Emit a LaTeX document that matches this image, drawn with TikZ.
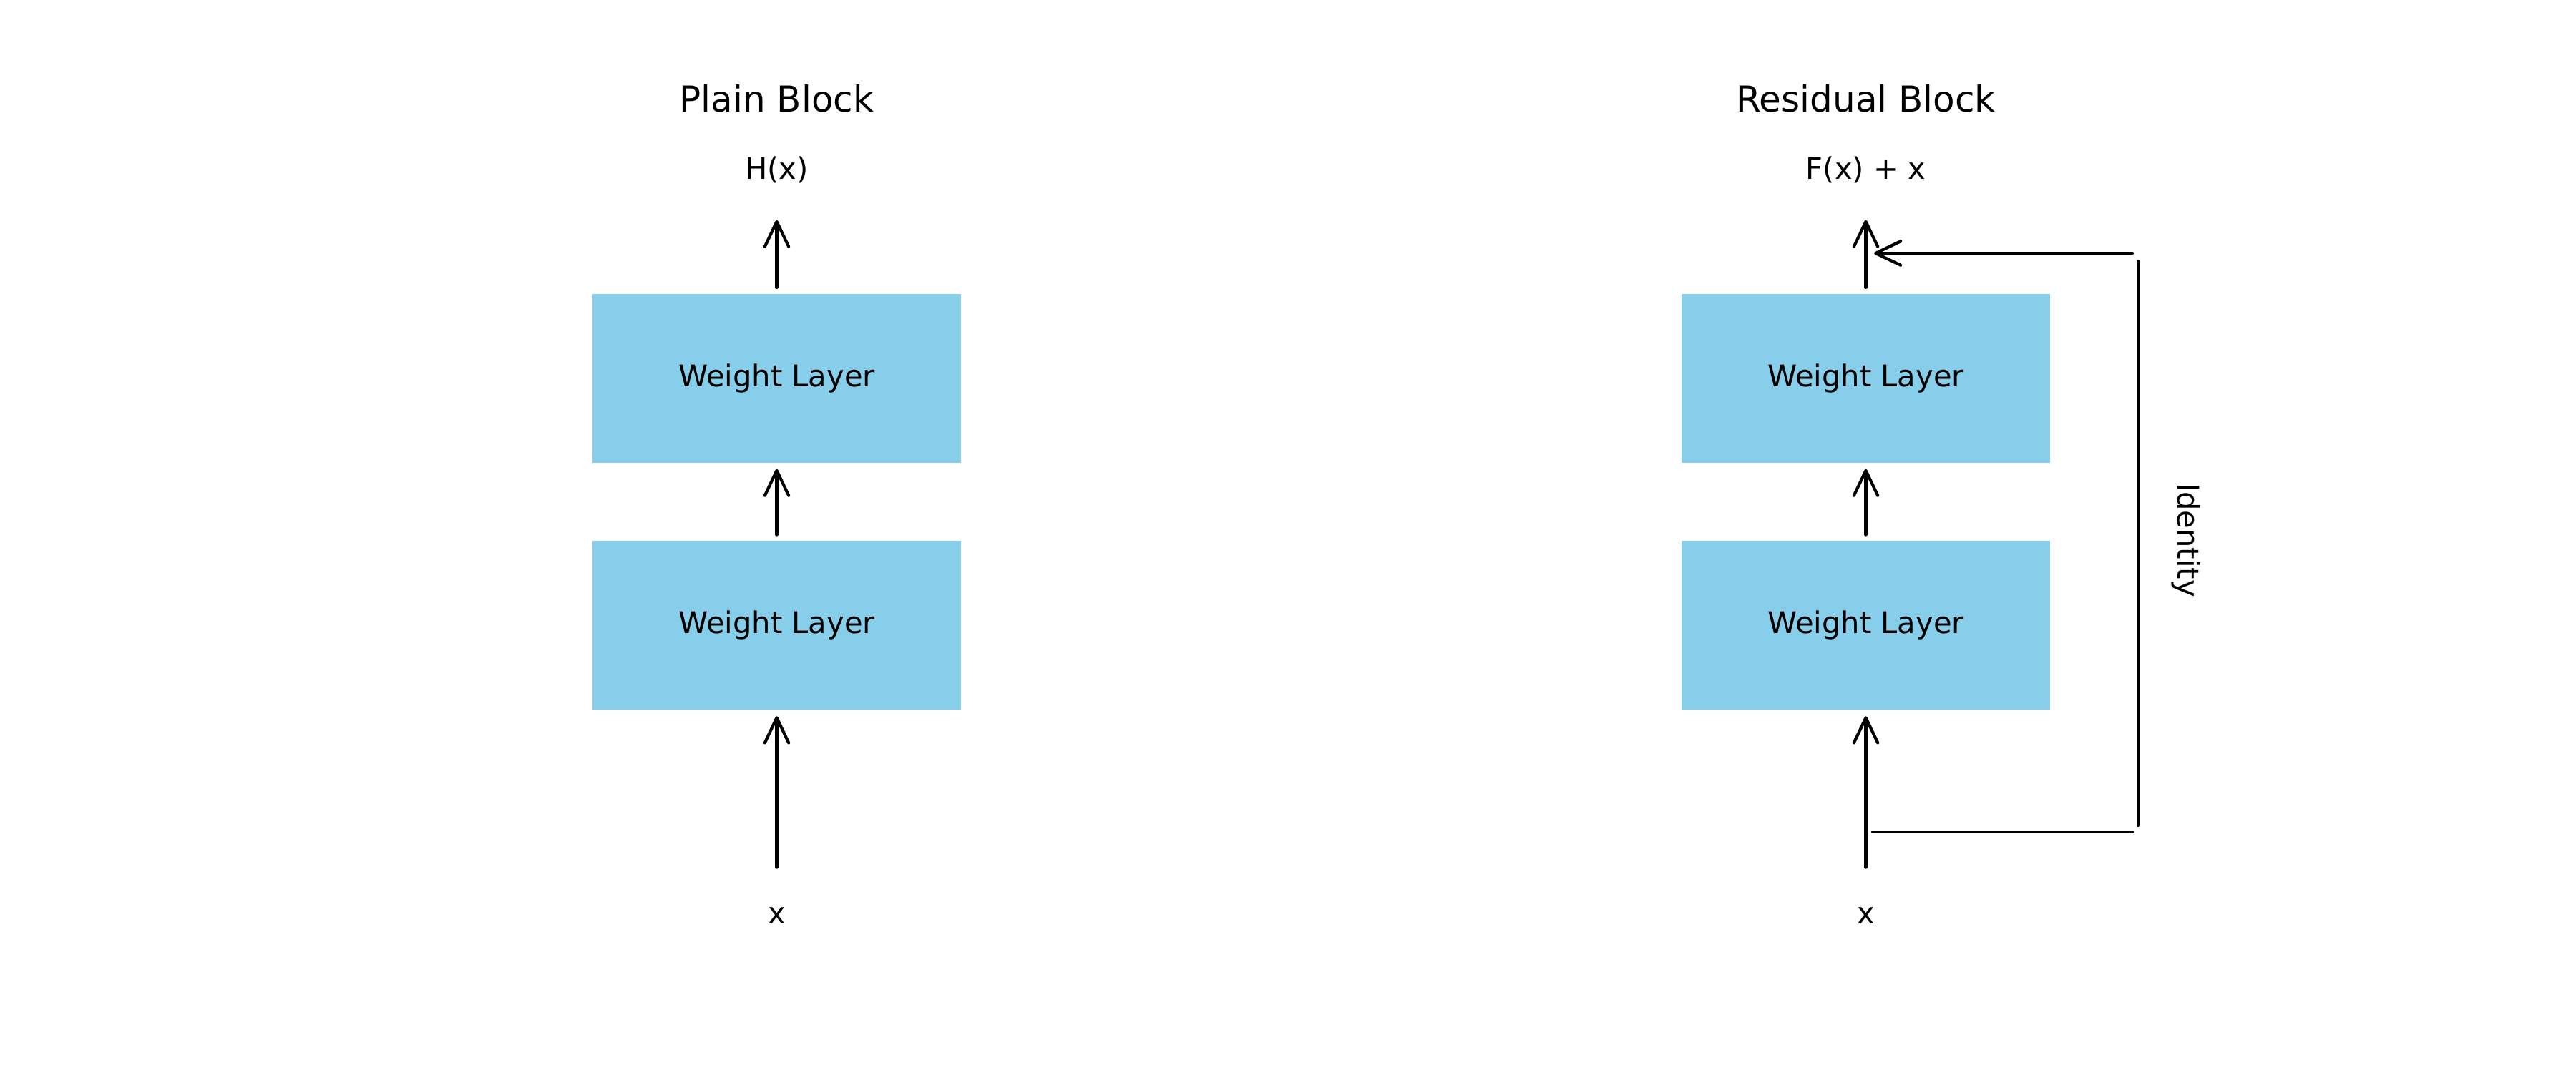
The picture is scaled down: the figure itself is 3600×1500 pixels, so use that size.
\documentclass[tikz,border=0pt]{standalone}
\usepackage{fontspec}
\setmainfont{DejaVu Sans}
\usetikzlibrary{arrows.meta}
\definecolor{skyblue}{RGB}{135,206,235}
\tikzset{
  layer/.style={fill=skyblue, draw=none, inner sep=0pt, minimum width=123.6pt, minimum height=56.6pt, font=\fontsize{10pt}{12pt}\selectfont},
  arr/.style={line width=1pt, line cap=round, -{Straight Barb[length=8.4pt,width=8pt,round]}},
  seg/.style={line width=1pt, line cap=round},
  lbl/.style={inner sep=0pt, anchor=base, font=\fontsize{10pt}{12pt}\selectfont},
  ttl/.style={inner sep=0pt, anchor=base, font=\fontsize{12pt}{14pt}\selectfont}
}
\begin{document}
\begin{tikzpicture}[x=0.24pt, y=-0.24pt]
\useasboundingbox (0,0) rectangle (3600,1500);
% Plain block
\node[ttl] (ptitle) at (1085.5,156.8) {Plain Block};
\node[lbl] (pout) at (1085.5,251) {H(x)};
\node[layer] (p1) at (1085.5,528.6) {Weight Layer};
\node[layer] (p2) at (1085.5,874.2) {Weight Layer};
\node[lbl] (pin) at (1085.5,1291) {x};
\coordinate (pinTop) at (1085.5,1212.6);
\coordinate (poutBot) at (1085.5,307.7);
\draw[arr] (pinTop) -- ([yshift=-2pt]p2.south);
\draw[arr] ([yshift=1.9pt]p2.north) -- ([yshift=-2pt]p1.south);
\draw[arr] ([yshift=1.9pt]p1.north) -- (poutBot);
% Residual block
\node[ttl] (rtitle) at (2607.5,156.8) {Residual Block};
\node[lbl] (rout) at (2607.5,251) {F(x) + x};
\node[layer] (r1) at (2607.5,528.6) {Weight Layer};
\node[layer] (r2) at (2607.5,874.2) {Weight Layer};
\node[lbl] (rin) at (2607.5,1291) {x};
\coordinate (rinTop) at (2607.5,1212.6);
\coordinate (routBot) at (2607.5,307.7);
\draw[arr] (rinTop) -- ([yshift=-2pt]r2.south);
\draw[arr] ([yshift=1.9pt]r2.north) -- ([yshift=-2pt]r1.south);
\draw[arr] ([yshift=1.9pt]r1.north) -- (routBot);
% Identity shortcut
\coordinate (idBL) at (2617,1163);
\coordinate (idBR) at (2980,1163);
\coordinate (idVB) at (2988,1154);
\coordinate (idVT) at (2988,365);
\coordinate (idTR) at (2980,354);
\coordinate (idTip) at (2619,354);
\draw[seg] (idBL) -- (idBR);
\draw[seg] (idVB) -- (idVT);
\draw[arr] (idTR) -- (idTip);
\node[lbl, rotate=-90] (idlbl) at (3043,755) {Identity};
\end{tikzpicture}
\end{document}
